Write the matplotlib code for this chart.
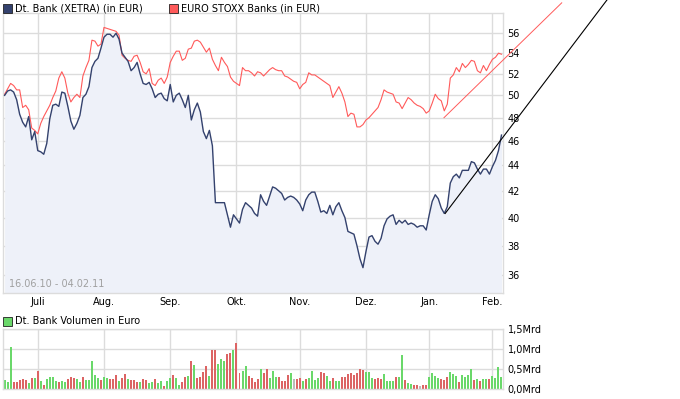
"""Dt. Bank vs. EURO STOXX Banks, 16.06.10 - 04.02.11, with Xetra volume."""

import matplotlib

matplotlib.use("Agg")
import matplotlib.pyplot as plt
from matplotlib.patches import Rectangle
from matplotlib.ticker import FixedLocator, NullFormatter, NullLocator
import numpy as np
import pandas as pd

plt.rcParams["font.family"] = ["DejaVu Sans"]

# --- data ---------------------------------------------------------------
start_date = "2010-06-16"
end_date = "2011-02-04"
closed_days = ["2010-12-24", "2010-12-31"]

month_labels = ["Juli", "Aug.", "Sep.", "Okt.", "Nov.", "Dez.", "Jan.", "Feb."]
price_ticks = [36, 38, 40, 42, 44, 46, 48, 50, 52, 54, 56]
volume_ticks = [0.0, 0.5, 1.0, 1.5]

# Deutsche Bank close (EUR), one value per trading day
dbk_close = [
    50.0, 50.4, 50.5, 50.3, 49.6, 48.3, 47.6, 47.2, 48.1, 46.1,
    46.8, 45.2, 45.1, 44.9, 45.8, 47.9, 49.1, 49.2, 49.0, 50.3,
    50.2, 49.0, 47.7, 47.0, 47.5, 48.2, 49.8, 50.1, 50.8, 52.6,
    53.2, 53.5, 54.5, 55.6, 55.9, 55.9, 55.6, 56.0, 55.4, 54.0,
    53.6, 53.2, 52.3, 52.6, 53.1, 52.0, 51.1, 51.0, 51.2, 50.6,
    49.8, 50.1, 50.2, 49.7, 49.5, 51.0, 49.4, 50.0, 50.2, 49.6,
    48.9, 50.0, 47.8, 48.7, 49.3, 48.5, 46.8, 46.2, 46.9, 45.6,
    41.1, 41.1, 41.1, 41.1, 40.2, 39.3, 40.2, 39.9, 39.6, 40.6,
    41.1, 40.9, 40.7, 40.3, 40.1, 41.7, 41.2, 40.9, 41.6, 42.3,
    42.2, 42.0, 41.8, 41.3, 41.5, 41.6, 41.5, 41.3, 41.0, 40.5,
    41.3, 41.7, 41.9, 41.9, 41.2, 40.4, 40.5, 40.3, 40.9, 40.2,
    40.8, 41.1, 40.5, 40.0, 39.0, 38.9, 38.8, 38.0, 37.1, 36.5,
    37.6, 38.6, 38.7, 38.3, 38.1, 38.5, 39.4, 39.9, 40.1, 40.2,
    39.5, 39.8, 39.6, 39.8, 39.5, 39.6, 39.5, 39.3, 39.4, 39.4,
    39.1, 40.2, 41.2, 41.7, 41.4, 40.7, 40.3, 40.8, 42.6, 43.1,
    43.3, 43.0, 43.6, 43.6, 43.6, 44.3, 44.2, 43.7, 43.3, 43.7,
    43.7, 43.3, 43.9, 44.4, 45.2, 46.5,
]

# EURO STOXX Banks, rebased to the Dt. Bank start value
stoxx_banks = [
    50.1, 50.6, 51.1, 50.9, 50.5, 50.5, 48.9, 49.1, 48.7, 47.1,
    46.9, 46.6, 47.5, 48.1, 48.6, 49.1, 49.8, 50.4, 51.6, 52.2,
    51.6, 50.2, 49.4, 49.8, 50.1, 49.8, 51.8, 52.6, 53.3, 55.3,
    55.2, 54.7, 54.9, 56.6, 56.5, 56.4, 56.3, 56.2, 55.8, 53.8,
    53.5, 53.3, 53.2, 53.7, 53.8, 53.1, 52.2, 52.0, 52.5, 51.1,
    50.9, 51.4, 51.6, 51.1, 51.7, 53.1, 53.7, 54.2, 54.2, 53.3,
    53.5, 54.4, 54.5, 55.2, 55.3, 55.1, 54.6, 54.1, 54.5, 53.4,
    52.8, 52.3, 53.6, 53.1, 52.7, 51.7, 51.3, 51.1, 50.9, 52.6,
    52.3, 52.3, 52.1, 51.8, 52.2, 52.1, 51.8, 52.1, 52.4, 52.6,
    52.4, 52.3, 52.3, 51.8, 51.7, 51.5, 51.3, 51.2, 50.6, 51.0,
    51.2, 52.1, 51.9, 51.9, 51.7, 51.5, 51.3, 51.1, 50.9, 49.8,
    50.3, 50.8, 50.2, 49.4, 48.1, 48.4, 48.3, 47.2, 47.2, 47.4,
    47.8, 48.0, 48.3, 48.6, 48.9, 49.6, 50.5, 50.3, 50.2, 50.1,
    49.4, 49.3, 48.8, 49.3, 49.8, 49.6, 49.3, 49.1, 49.0, 48.8,
    48.4, 48.6, 49.3, 50.1, 49.7, 49.5, 48.6, 49.2, 51.6, 51.9,
    52.6, 52.2, 53.0, 52.6, 52.9, 53.3, 53.2, 52.3, 52.1, 52.8,
    52.3, 52.9, 53.4, 53.6, 54.0, 53.9,
]

# traded volume in billion EUR (Mrd)
volume_mrd = [
    0.23, 0.19, 1.07, 0.19, 0.19, 0.23, 0.26, 0.23, 0.17, 0.28,
    0.28, 0.47, 0.22, 0.11, 0.26, 0.31, 0.31, 0.22, 0.19, 0.22,
    0.19, 0.26, 0.31, 0.28, 0.26, 0.19, 0.31, 0.23, 0.23, 0.71,
    0.36, 0.28, 0.23, 0.31, 0.28, 0.26, 0.26, 0.36, 0.22, 0.28,
    0.38, 0.26, 0.23, 0.23, 0.19, 0.19, 0.26, 0.23, 0.17, 0.19,
    0.26, 0.17, 0.22, 0.08, 0.22, 0.28, 0.36, 0.28, 0.11, 0.19,
    0.31, 0.33, 0.71, 0.61, 0.28, 0.31, 0.44, 0.58, 0.33, 0.98,
    0.98, 0.63, 0.76, 0.71, 0.88, 0.92, 0.98, 1.16, 0.42, 0.47,
    0.58, 0.33, 0.28, 0.19, 0.26, 0.51, 0.42, 0.51, 0.28, 0.47,
    0.31, 0.31, 0.22, 0.22, 0.36, 0.42, 0.26, 0.26, 0.28, 0.22,
    0.26, 0.28, 0.47, 0.23, 0.28, 0.44, 0.40, 0.33, 0.22, 0.28,
    0.22, 0.22, 0.32, 0.32, 0.38, 0.42, 0.36, 0.42, 0.51, 0.48,
    0.44, 0.44, 0.29, 0.25, 0.29, 0.26, 0.38, 0.22, 0.22, 0.22,
    0.30, 0.30, 0.86, 0.23, 0.15, 0.13, 0.11, 0.10, 0.08, 0.10,
    0.11, 0.30, 0.42, 0.33, 0.28, 0.26, 0.23, 0.30, 0.44, 0.38,
    0.33, 0.19, 0.36, 0.32, 0.36, 0.51, 0.23, 0.25, 0.21, 0.25,
    0.26, 0.26, 0.33, 0.28, 0.57, 0.30,
]

# 1 = up day, -1 = down day, 0 = unchanged
volume_dir = [
    1, 1, 1, -1, -1, -1, -1, -1, 1, -1,
    1, -1, 1, -1, 1, 1, 1, 1, -1, 1,
    1, -1, -1, -1, 1, 1, -1, 1, 1, 1,
    1, 1, -1, 1, 1, -1, -1, -1, 1, -1,
    -1, 1, -1, -1, -1, 1, -1, -1, 1, 1,
    -1, 1, 1, -1, 1, 1, -1, 1, 1, -1,
    -1, 1, -1, 1, -1, -1, -1, -1, 1, -1,
    -1, 1, 1, 1, -1, -1, 1, -1, -1, 1,
    1, -1, -1, -1, -1, 1, -1, -1, 1, 1,
    1, -1, -1, -1, -1, 1, 0, -1, -1, 1,
    -1, 1, 1, 1, 1, -1, -1, 1, 1, -1,
    1, 1, -1, -1, -1, -1, -1, -1, -1, -1,
    1, 1, 1, -1, -1, -1, 1, 1, 1, 1,
    -1, 1, 1, -1, 1, 1, -1, -1, 0, -1,
    -1, 1, 1, 1, 1, -1, -1, -1, 1, 1,
    1, -1, 1, 1, 1, 1, -1, 1, -1, 1,
    1, -1, 1, 1, 1, 1,
]

# trend lines drawn on the chart (trading-day index, price)
trend_dbk_idx = [146.3, 200.0]
trend_dbk_val = [40.3, 59.5]
trend_stoxx_idx = [145.9, 185.0]
trend_stoxx_val = [48.0, 59.2]

# --- styling ------------------------------------------------------------
c_dbk = "#34426e"
c_dbk_fill = "#eef1f9"
c_stoxx = "#ff5a5a"
c_grid = "#dcdcdc"
c_up = "#6ad86a"
c_down = "#dc6464"
c_flat = "#bbbbbb"
fs = 7

days = pd.bdate_range(start_date, end_date)
days = days[~days.isin(pd.to_datetime(closed_days))]
x = np.arange(len(days))
month_idx = [int(np.argmax(days >= m)) for m in pd.date_range("2010-07-01", end_date, freq="MS")]

W, H = 680, 399
fig = plt.figure(figsize=(W / 100, H / 100), dpi=100)


def px_box(left, top, right, bottom):
    return [left / W, 1 - bottom / H, (right - left) / W, (bottom - top) / H]


ax = fig.add_axes(px_box(2.5, 13.3, 503.3, 292.7))
axv = fig.add_axes(px_box(2.5, 329.3, 503.3, 389.3), sharex=ax)

xlim = (-0.7, 165.6)

# price panel
ax.set_yscale("log")
ax.set_ylim(34.87, 58.08)
ax.set_xlim(*xlim)
ax.fill_between(x, dbk_close, 30, color=c_dbk_fill, linewidth=0, zorder=1)
ax.plot(x, stoxx_banks, color=c_stoxx, linewidth=0.8, zorder=3)
ax.plot(x, dbk_close, color=c_dbk, linewidth=1.0, zorder=4)
ax.plot(trend_stoxx_idx, trend_stoxx_val, color=c_stoxx, linewidth=0.7, clip_on=False, zorder=5)
ax.plot(trend_dbk_idx, trend_dbk_val, color="black", linewidth=0.8, clip_on=False, zorder=5)

ax.yaxis.set_major_locator(FixedLocator(price_ticks))
ax.yaxis.set_minor_locator(NullLocator())
ax.yaxis.set_minor_formatter(NullFormatter())
ax.set_yticklabels([str(t) for t in price_ticks])
ax.yaxis.tick_right()
ax.tick_params(axis="y", length=0, pad=3, labelsize=fs)
ax.set_xticks(month_idx)
ax.set_xticklabels(month_labels)
ax.tick_params(axis="x", length=0, pad=3, labelsize=fs)
ax.grid(True, color=c_grid, linewidth=1, zorder=0)
ax.set_axisbelow(True)
ax.text(0.012, 0.012, "16.06.10 - 04.02.11", transform=ax.transAxes, fontsize=fs,
        color="#a0a0a0", ha="left", va="bottom")

# volume panel
bar_colors = [c_up if d > 0 else c_down if d < 0 else c_flat for d in volume_dir]
axv.bar(x, volume_mrd, width=0.66, color=bar_colors, linewidth=0, zorder=2)
axv.set_ylim(0, 1.5)
axv.set_yticks(volume_ticks)
axv.set_yticklabels([f"{t:.1f}".replace(".", ",") + "Mrd" for t in volume_ticks])
axv.yaxis.tick_right()
axv.tick_params(axis="y", length=0, pad=3, labelsize=fs)
axv.tick_params(axis="x", length=0, labelbottom=False)
axv.grid(True, color=c_grid, linewidth=1, zorder=0)
axv.set_axisbelow(True)

for a in (ax, axv):
    for s in a.spines.values():
        s.set_color(c_grid)
        s.set_linewidth(1)

# legends (square + label, in pixel positions)
legend_items = [
    (3, 4, c_dbk, "Dt. Bank (XETRA) (in EUR)"),
    (169, 4, c_stoxx, "EURO STOXX Banks (in EUR)"),
    (3, 317, c_up, "Dt. Bank Volumen in Euro"),
]
for lx, ly, col, label in legend_items:
    fig.add_artist(Rectangle((lx / W, 1 - (ly + 9) / H), 9 / W, 9 / H, transform=fig.transFigure,
                             facecolor=col, edgecolor="#222222", linewidth=0.6))
    fig.text((lx + 12) / W, 1 - (ly + 4.5) / H, label, fontsize=fs, va="center", ha="left")

fig.savefig("out.png", dpi=100)
